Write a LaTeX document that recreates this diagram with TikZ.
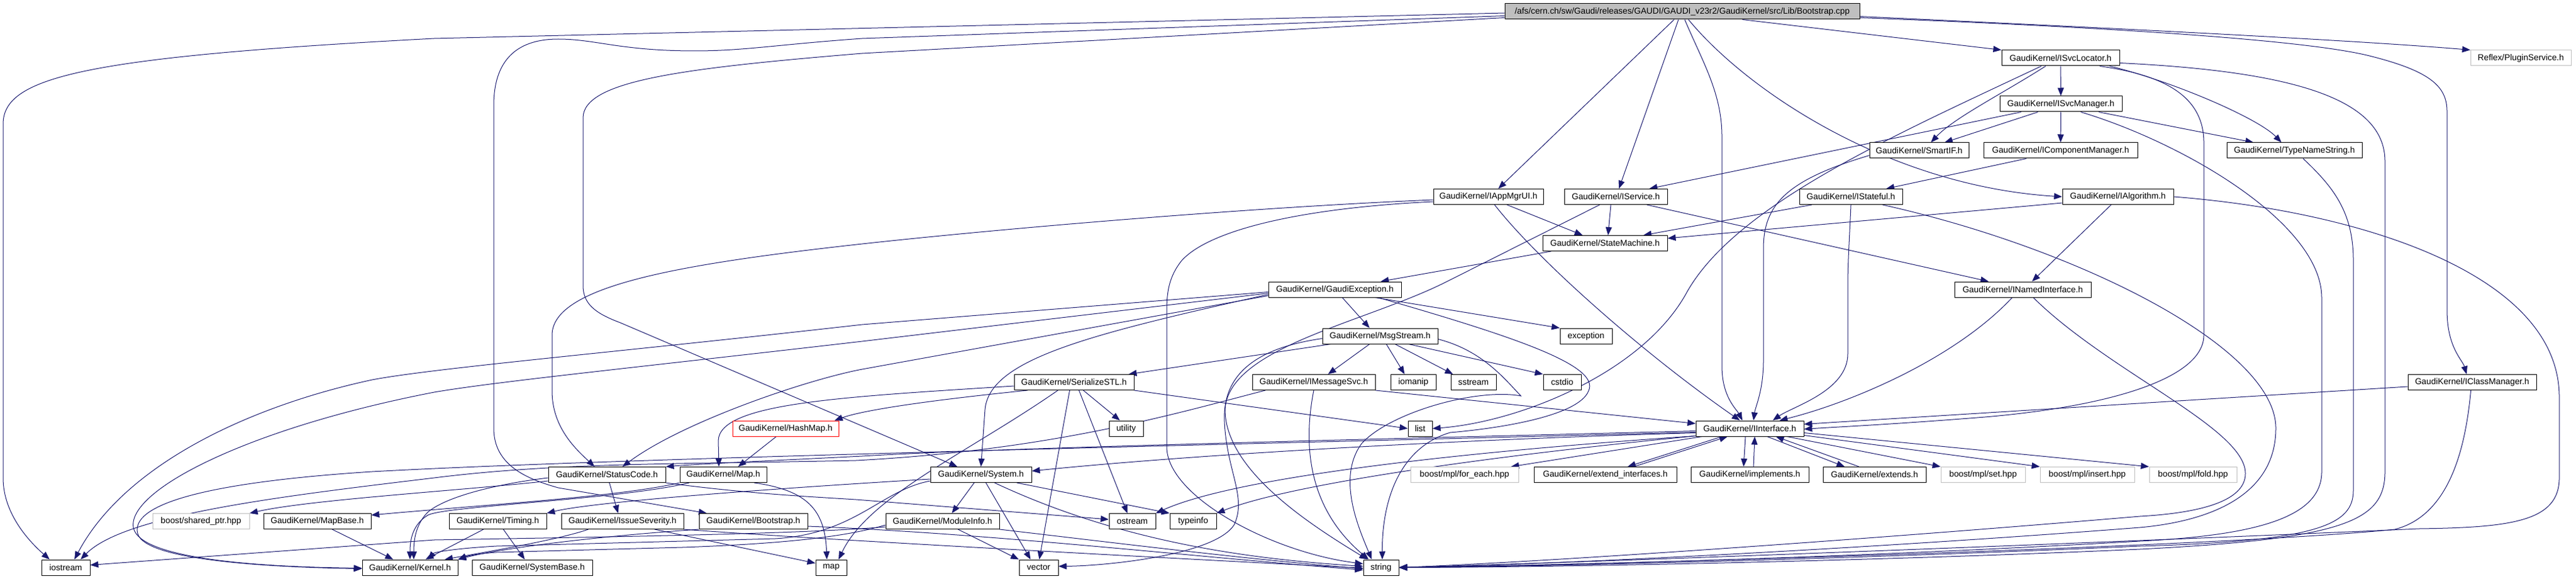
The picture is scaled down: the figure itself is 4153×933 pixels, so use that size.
\documentclass[tikz,border=0pt]{standalone}
\usepackage{fontspec}
\setmainfont{Liberation Sans}
\usetikzlibrary{arrows.meta,backgrounds}
\definecolor{edgec}{HTML}{191970}
\definecolor{grayb}{HTML}{BFBFBF}
\begin{document}
\begin{tikzpicture}[x=1pt,y=-1pt,
  nbox/.style={draw=black, line width=1pt, fill=white, minimum height=25pt, inner sep=0pt, font=\fontsize{13.8}{16}\selectfont},
  gbox/.style={nbox, draw=grayb},
  rbox/.style={nbox, draw=red},
  rootbox/.style={nbox, fill=grayb},
  lnk/.style={draw=edgec, line width=1pt, -{Triangle[length=13pt,width=10pt]}}]
\path[use as bounding box] (0,0) rectangle (4153,933);

\node[rootbox, minimum width=572pt] (root) at (2712,18.5) {/afs/cern.ch/sw/Gaudi/releases/GAUDI/GAUDI\_v23r2/GaudiKernel/src/Lib/Bootstrap.cpp};
\node[nbox, minimum width=78pt] (iostream) at (106,914.5) {iostream};
\node[nbox, minimum width=190pt] (svcloc) at (3322,93.5) {GaudiKernel/ISvcLocator.h};
\node[gbox, minimum width=162pt] (reflex) at (4064,93.5) {Reflex/PluginService.h};
\node[nbox, minimum width=197pt] (svcmgr) at (3322.5,167.5) {GaudiKernel/ISvcManager.h};
\node[nbox, minimum width=160pt] (smartif) at (3094,242.5) {GaudiKernel/SmartIF.h};
\node[nbox, minimum width=248pt] (compmgr) at (3322,242.5) {GaudiKernel/IComponentManager.h};
\node[nbox, minimum width=218pt] (typename) at (3699,242.5) {GaudiKernel/TypeNameString.h};
\node[nbox, minimum width=177pt] (appmgr) at (2399.5,317) {GaudiKernel/IAppMgrUI.h};
\node[nbox, minimum width=166pt] (iservice) at (2605,317) {GaudiKernel/IService.h};
\node[nbox, minimum width=166pt] (istateful) at (2984,317) {GaudiKernel/IStateful.h};
\node[nbox, minimum width=179pt] (ialgo) at (3414.5,317) {GaudiKernel/IAlgorithm.h};
\node[nbox, minimum width=201pt] (statem) at (2587.5,392) {GaudiKernel/StateMachine.h};
\node[nbox, minimum width=214pt] (gexc) at (2152,466.5) {GaudiKernel/GaudiException.h};
\node[nbox, minimum width=220pt] (inamed) at (3261,466.5) {GaudiKernel/INamedInterface.h};
\node[nbox, minimum width=186pt] (msgs) at (2225,541.5) {GaudiKernel/MsgStream.h};
\node[nbox, minimum width=84pt] (exception) at (2557,541.5) {exception};
\node[nbox, minimum width=193pt] (serial) at (1731.5,616) {GaudiKernel/SerializeSTL.h};
\node[nbox, minimum width=198pt] (imsg) at (2118,616) {GaudiKernel/IMessageSvc.h};
\node[nbox, minimum width=73pt] (iomanip) at (2278.5,616) {iomanip};
\node[nbox, minimum width=73pt] (sstream) at (2375.5,616) {sstream};
\node[nbox, minimum width=61pt] (cstdio) at (2518.5,616) {cstdio};
\node[nbox, minimum width=207pt] (iclass) at (3985.5,616) {GaudiKernel/IClassManager.h};
\node[rbox, minimum width=171pt] (hashmap) at (1266.5,690.5) {GaudiKernel/HashMap.h};
\node[nbox, minimum width=55pt] (utility) at (1815.5,690.5) {utility};
\node[nbox, minimum width=39pt] (list) at (2289.5,690.5) {list};
\node[nbox, minimum width=174pt] (iinter) at (2821,690.5) {GaudiKernel/IInterface.h};
\node[nbox, minimum width=189pt] (status) at (978.5,765) {GaudiKernel/StatusCode.h};
\node[nbox, minimum width=140pt] (mapH) at (1166,765) {GaudiKernel/Map.h};
\node[nbox, minimum width=163pt] (system) at (1581.5,765) {GaudiKernel/System.h};
\node[gbox, minimum width=174pt] (foreach) at (2361,765) {boost/mpl/for\_each.hpp};
\node[nbox, minimum width=230pt] (extif) at (2588,765) {GaudiKernel/extend\_interfaces.h};
\node[nbox, minimum width=190pt] (implem) at (2821,765) {GaudiKernel/implements.h};
\node[nbox, minimum width=166pt] (extends) at (3022,765) {GaudiKernel/extends.h};
\node[gbox, minimum width=136pt] (mplset) at (3197,765) {boost/mpl/set.hpp};
\node[gbox, minimum width=152pt] (mplinsert) at (3365,765) {boost/mpl/insert.hpp};
\node[gbox, minimum width=141pt] (mplfold) at (3535.5,765) {boost/mpl/fold.hpp};
\node[gbox, minimum width=156pt] (sharedptr) at (324,840) {boost/shared\_ptr.hpp};
\node[nbox, minimum width=173pt] (mapbase) at (511.5,840) {GaudiKernel/MapBase.h};
\node[nbox, minimum width=157pt] (timing) at (802.5,840) {GaudiKernel/Timing.h};
\node[nbox, minimum width=197pt] (issue) at (1003.5,840) {GaudiKernel/IssueSeverity.h};
\node[nbox, minimum width=175pt] (bootstrap) at (1214.5,840) {GaudiKernel/Bootstrap.h};
\node[nbox, minimum width=183pt] (modinfo) at (1519.5,840) {GaudiKernel/ModuleInfo.h};
\node[nbox, minimum width=75pt] (ostream) at (1825.5,840) {ostream};
\node[nbox, minimum width=75pt] (typeinfo) at (1923.5,840) {typeinfo};
\node[nbox, minimum width=154pt] (kernel) at (661,914.5) {GaudiKernel/Kernel.h};
\node[nbox, minimum width=194pt] (sysbase) at (858,914.5) {GaudiKernel/SystemBase.h};
\node[nbox, minimum width=50pt] (map) at (1340,914.5) {map};
\node[nbox, minimum width=63pt] (vector) at (1674.5,914.5) {vector};
\node[nbox, minimum width=57pt] (string) at (2226.5,914.5) {string};

\begin{scope}[on background layer]
\fill[white] (0,0) rectangle (4153,933);
% root
\draw[lnk] ([yshift=-2.5pt]root.west) -- (700,62) .. controls (130,92) and (5,125) .. (5,200) -- (5,770) .. controls (5,830) and (50,875) .. ([xshift=-26pt]iostream.north);
\draw[lnk] ([yshift=-7pt]root.west) -- (1390,62) .. controls (1250,72) and (1200,82) .. (1120,82) .. controls (1000,82) and (960,63) .. (900,63) .. controls (830,63) and (796,100) .. (796,170) -- (796,690) .. controls (796,750) and (850,772) .. (900,786) -- ([xshift=-75pt]bootstrap.north);
\draw[lnk] ([yshift=-10pt]root.west) -- (1390,86) .. controls (1100,110) and (940,130) .. (940,190) -- (940,460) .. controls (940,490) and (960,505) .. (1000,520) -- ([xshift=-38pt]system.north);
\draw[lnk] ([xshift=-13pt]root.south) -- ([xshift=16pt]appmgr.north);
\draw[lnk] ([xshift=-6pt]root.south) -- ([xshift=5pt]iservice.north);
\draw[lnk] ([xshift=4pt]root.south) .. controls (2745,100) and (2776,150) .. (2776,220) -- (2776,590) .. controls (2776,640) and (2800,660) .. ([xshift=-12pt]iinter.north);
\draw[lnk] ([xshift=10pt]root.south) .. controls (2820,150) and (3050,300) .. (ialgo.west);
\draw[lnk] ([xshift=97pt]root.south) -- (svcloc.north west);
\draw[lnk] ([yshift=-8pt]root.east) .. controls (3400,45) and (3800,65) .. (reflex.north west);
\draw[lnk] ([yshift=-10pt]root.east) .. controls (3300,40) and (3700,60) .. (3820,90) .. controls (3920,115) and (3945,140) .. (3945,180) -- (3945,500) .. controls (3945,560) and (3970,580) .. ([xshift=-9pt]iclass.north);
% ISvcLocator
\draw[lnk] (svcloc) -- (svcmgr);
\draw[lnk] ([xshift=-24pt]svcloc.south) .. controls (3230,150) and (3150,190) .. ([xshift=19pt]smartif.north);
\draw[lnk] ([xshift=-31pt]svcloc.south) .. controls (3050,220) and (2800,330) .. (2720,470) .. controls (2650,600) and (2450,680) .. (list.east);
\draw[lnk] ([xshift=79pt]svcloc.south) .. controls (3500,130) and (3640,190) .. ([xshift=-21pt]typename.north);
\draw[lnk] ([xshift=63pt]svcloc.south) .. controls (3480,120) and (3553,150) .. (3553,230) -- (3553,540) .. controls (3553,610) and (3400,655) .. (3200,672) .. controls (3050,684) and (2960,688) .. ([yshift=-1pt]iinter.east);
\draw[lnk] ([yshift=-8pt]svcloc.east) .. controls (3700,115) and (3845,160) .. (3845,260) -- (3845,760) .. controls (3845,840) and (3780,868) .. (3450,885) .. controls (3000,905) and (2500,914) .. (string.east);
% ISvcManager
\draw[lnk] ([xshift=-37pt]svcmgr.south) -- ([xshift=41pt]smartif.north);
\draw[lnk] (svcmgr) -- (compmgr);
\draw[lnk] ([xshift=-64pt]svcmgr.south) -- ([xshift=54pt]iservice.north);
\draw[lnk] ([xshift=61pt]svcmgr.south) -- ([xshift=-66pt]typename.north);
\draw[lnk] ([xshift=32pt]svcmgr.south) .. controls (3520,230) and (3743,360) .. (3743,480) -- (3743,760) .. controls (3743,830) and (3650,862) .. (3450,872) .. controls (3000,898) and (2500,912) .. (string.east);
\draw[lnk] ([xshift=-55pt]compmgr.south) -- ([xshift=57pt]istateful.north);
\draw[lnk] ([yshift=-8pt]smartif.west) .. controls (2880,290) and (2843,330) .. (2843,400) -- (2843,580) .. controls (2843,630) and (2830,655) .. ([xshift=6pt]iinter.north);
\draw[lnk] ([xshift=14pt]typename.south) .. controls (3760,300) and (3794,340) .. (3794,420) -- (3794,790) .. controls (3794,845) and (3740,872) .. (3450,880) .. controls (3000,900) and (2500,913) .. (string.east);
% IAppMgrUI
\draw[lnk] ([xshift=30pt]appmgr.south) -- ([xshift=-36pt]statem.north);
\draw[lnk] ([xshift=10pt]appmgr.south) .. controls (2480,420) and (2650,570) .. ([xshift=-16pt]iinter.north);
\draw[lnk] ([yshift=-5pt]appmgr.west) .. controls (2000,335) and (1600,370) .. (1390,393) .. controls (1100,425) and (890,460) .. (890,540) -- (890,630) .. controls (890,690) and (930,725) .. ([xshift=-20pt]status.north);
\draw[lnk] ([yshift=-8pt]appmgr.west) .. controls (2100,335) and (1950,370) .. (1905,420) .. controls (1885,445) and (1881,470) .. (1881,500) -- (1881,720) .. controls (1881,800) and (2050,890) .. ([yshift=6pt]string.west);
% IService
\draw[lnk] ([xshift=-8pt]iservice.south) -- ([xshift=5pt]statem.north);
\draw[lnk] ([xshift=50pt]iservice.south) -- ([xshift=-55pt]inamed.north);
\draw[lnk] ([xshift=-26pt]iservice.south) -- (2330,455) .. controls (2200,520) and (1980,560) .. (1975,660) .. controls (1975,760) and (2120,850) .. ([xshift=-22pt]string.north);
% IStateful
\draw[lnk] ([xshift=-63pt]istateful.south) -- ([xshift=62pt]statem.north);
\draw[lnk] (istateful.south) .. controls (2982,380) and (2979,420) .. (2979,460) -- (2979,570) .. controls (2979,630) and (2890,655) .. ([xshift=37pt]iinter.north);
\draw[lnk] ([xshift=51pt]istateful.south) .. controls (3350,400) and (3669,560) .. (3669,690) .. controls (3669,800) and (3560,840) .. (3450,850) .. controls (3000,885) and (2500,910) .. (string.east);
% IAlgorithm
\draw[lnk] ([yshift=-10pt]ialgo.west) -- ([yshift=8pt]statem.east);
\draw[lnk] ([xshift=-11pt]ialgo.south) -- ([xshift=15pt]inamed.north);
\draw[lnk] (ialgo.east) .. controls (3800,340) and (4126,440) .. (4126,640) -- (4126,770) .. controls (4126,840) and (4050,850) .. (3900,852) .. controls (3500,870) and (2600,905) .. (string.east);
% StateMachine, INamedInterface
\draw[lnk] ([xshift=-87pt]statem.south) -- ([xshift=74pt]gexc.north);
\draw[lnk] ([xshift=-17pt]inamed.south) .. controls (3150,580) and (2980,650) .. ([xshift=48pt]iinter.north);
\draw[lnk] ([xshift=17pt]inamed.south) .. controls (3400,600) and (3620,690) .. (3620,763) .. controls (3620,815) and (3520,828) .. (3450,832) .. controls (3000,870) and (2500,905) .. (string.east);
% GaudiException
\draw[lnk] ([xshift=12pt]gexc.south) -- ([xshift=-17pt]msgs.north);
\draw[lnk] ([xshift=65pt]gexc.south) -- (exception.north west);
\draw[lnk] ([xshift=70pt]gexc.south) .. controls (2450,545) and (2580,590) .. (2561,630) .. controls (2545,670) and (2420,690) .. (2338,697) .. controls (2260,720) and (2228,800) .. ([xshift=2pt]string.north);
\draw[lnk] ([yshift=-8pt]gexc.west) .. controls (1750,540) and (1595,580) .. (1588,660) -- (system.north);
\draw[lnk] ([yshift=-4pt]gexc.west) -- (1390,523) .. controls (1000,567) and (700,593) .. (600,612) .. controls (400,655) and (200,750) .. ([xshift=14pt]iostream.north);
\draw[lnk] ([yshift=-6pt]gexc.west) -- (1390,550) .. controls (1000,595) and (800,615) .. (700,632) .. controls (400,690) and (205,790) .. (215,850) .. controls (225,905) and (450,914) .. ([yshift=-1pt]kernel.west);
\draw[lnk] ([yshift=-10pt]gexc.west) -- (1390,595) .. controls (1300,612) and (1100,680) .. ([xshift=25pt]status.north);
% MsgStream
\draw[lnk] ([xshift=-17pt]msgs.south) -- ([xshift=23pt]imsg.north);
\draw[lnk] ([xshift=10pt]msgs.south) -- ([xshift=-14pt]iomanip.north);
\draw[lnk] ([xshift=24pt]msgs.south) -- ([xshift=-33pt]sstream.north);
\draw[lnk] ([xshift=46pt]msgs.south) -- (cstdio.north west);
\draw[lnk] ([yshift=-5pt]msgs.east) .. controls (2390,565) and (2425,610) .. (2452,638) .. controls (2380,625) and (2240,665) .. (2195,715) .. controls (2155,770) and (2190,850) .. ([xshift=-15pt]string.north);
\draw[lnk] ([xshift=14pt]msgs.south west) -- ([xshift=88pt]serial.north);
\draw[lnk] ([yshift=-4pt]msgs.west) .. controls (2030,560) and (1970,600) .. (1974,680) .. controls (1978,760) and (2010,800) .. (1990,845) .. controls (1960,895) and (1780,912) .. ([yshift=2pt]vector.east);
% SerializeSTL
\draw[lnk] ([xshift=-75pt]serial.south) .. controls (1450,650) and (1380,665) .. ([xshift=-7pt]hashmap.north east);
\draw[lnk] ([yshift=-6pt]serial.west) .. controls (1350,640) and (1160,650) .. (1158,710) -- ([xshift=-7pt]mapH.north);
\draw[lnk] ([xshift=-26pt]serial.south) .. controls (1560,730) and (1400,800) .. ([xshift=12pt]map.north);
\draw[lnk] ([xshift=-7pt]serial.south) -- ([xshift=1pt]vector.north);
\draw[lnk] ([xshift=8pt]serial.south) -- ([xshift=-8pt]ostream.north);
\draw[lnk] ([xshift=15pt]serial.south) -- ([xshift=-10pt]utility.north);
\draw[lnk] (serial.south east) -- (list.west);
% IMessageSvc
\draw[lnk] (imsg.south) .. controls (2100,720) and (2110,820) .. ([xshift=-20pt]string.north);
\draw[lnk] (imsg.south east) -- ([yshift=8pt]iinter.west);
\draw[lnk] ([xshift=-78pt]imsg.south) .. controls (1900,665) and (1700,725) .. (1380,742) .. controls (1100,748) and (900,745) .. (700,770) .. controls (450,800) and (200,830) .. ([xshift=24pt]iostream.north);
% IInterface
\draw[lnk] ([yshift=-4pt]iinter.west) .. controls (2200,708) and (1600,722) .. (1390,735) .. controls (1250,742) and (1120,748) .. (status.north east);
\draw[lnk] ([yshift=-6pt]iinter.west) .. controls (2000,716) and (1000,738) .. (600,760) .. controls (320,778) and (210,815) .. (222,860) .. controls (235,905) and (450,914) .. ([yshift=-2pt]kernel.west);
\draw[lnk] ([yshift=-7pt]iinter.west) .. controls (2300,710) and (1900,735) .. ([yshift=6pt]system.east);
\draw[lnk] ([yshift=-12pt]iinter.west) .. controls (2400,725) and (2000,765) .. (ostream.north east);
\draw[lnk] ([yshift=-12pt]iinter.west) .. controls (2400,735) and (2080,780) .. (typeinfo.north east);
\draw[lnk] ([xshift=-77pt]iinter.south) -- ([xshift=75pt]foreach.north);
\draw[lnk] ([xshift=-45pt]iinter.south) -- ([xshift=36pt]extif.north);
\draw[lnk] ([xshift=46pt]extif.north) -- ([xshift=-36pt]iinter.south);
\draw[lnk] ([xshift=-7pt]iinter.south) -- ([xshift=-10pt]implem.north);
\draw[lnk] ([xshift=6pt]implem.north) -- ([xshift=8pt]iinter.south);
\draw[lnk] ([xshift=28pt]iinter.south) -- ([xshift=-48pt]extends.north);
\draw[lnk] ([xshift=-25pt]extends.north) -- ([xshift=42pt]iinter.south);
\draw[lnk] ([xshift=60pt]iinter.south) -- (mplset.north west);
\draw[lnk] ([yshift=-11pt]iinter.east) -- (mplinsert.north west);
\draw[lnk] ([yshift=-7pt]iinter.east) -- (mplfold.north west);
% IClassManager
\draw[lnk] ([yshift=-7pt]iclass.west) -- ([yshift=7pt]iinter.east);
\draw[lnk] ([xshift=-2pt]iclass.south) .. controls (3975,720) and (3950,830) .. (3861,853) .. controls (3600,880) and (2600,910) .. (string.east);
% StatusCode
\draw[lnk] ([xshift=4pt]status.south) -- ([xshift=-7pt]issue.north);
\draw[lnk] ([yshift=-10pt]status.west) .. controls (750,790) and (500,805) .. (sharedptr.north east);
\draw[lnk] ([yshift=-5pt]status.west) .. controls (800,780) and (720,800) .. (690,825) .. controls (670,845) and (667,870) .. ([xshift=6pt]kernel.north);
\draw[lnk] (status.south east) .. controls (1200,795) and (1300,800) .. (1380,805) -- ([yshift=3pt]ostream.west);
% Map, HashMap, MapBase
\draw[lnk] (mapH.south west) .. controls (1000,800) and (800,812) .. ([yshift=10pt]mapbase.east);
\draw[lnk] ([xshift=-55pt]mapH.south) .. controls (1000,805) and (720,815) .. (690,830) .. controls (665,845) and (661,870) .. (kernel.north);
\draw[lnk] ([xshift=50pt]mapH.south) .. controls (1300,790) and (1330,820) .. ([xshift=-7pt]map.north);
\draw[lnk] ([xshift=-15pt]hashmap.south) -- ([xshift=24pt]mapH.north);
\draw[lnk] ([xshift=24pt]mapbase.south) -- ([xshift=-27pt]kernel.north);
% System
\draw[lnk] ([xshift=-11pt]system.south) -- ([xshift=15pt]modinfo.north);
\draw[lnk] ([xshift=8pt]system.south) -- ([xshift=-13pt]vector.north);
\draw[lnk] ([xshift=58pt]system.south) -- (typeinfo.north west);
\draw[lnk] ([xshift=22pt]system.south) .. controls (1800,870) and (2000,900) .. ([yshift=2pt]string.west);
\draw[lnk] ([yshift=-7pt]system.west) .. controls (1200,790) and (950,810) .. (timing.north east);
\draw[lnk] ([yshift=-10pt]system.west) .. controls (1420,790) and (1380,860) .. (1250,868) -- (800,880) .. controls (730,884) and (700,890) .. ([xshift=29pt]kernel.north);
% Timing, IssueSeverity, Bootstrap, ModuleInfo
\draw[lnk] ([xshift=-23pt]timing.south) -- ([xshift=25pt]kernel.north);
\draw[lnk] ([xshift=9pt]timing.south) -- ([xshift=-12pt]sysbase.north);
\draw[lnk] ([xshift=-55pt]issue.south) .. controls (900,870) and (780,890) .. ([xshift=56pt]kernel.north);
\draw[lnk] ([xshift=52pt]issue.south) -- ([yshift=7pt]map.west);
\draw[lnk] (issue.south east) .. controls (1300,868) and (1800,895) .. ([yshift=-1pt]string.west);
\draw[lnk] (bootstrap.south west) .. controls (950,865) and (800,885) .. (kernel.north east);
\draw[lnk] ([yshift=-8pt]bootstrap.east) .. controls (1600,860) and (1900,895) .. ([yshift=-4pt]string.west);
\draw[lnk] ([xshift=25pt]modinfo.south) -- (vector.north west);
\draw[lnk] (modinfo.south east) .. controls (1800,875) and (2000,900) .. ([yshift=-2pt]string.west);
\draw[lnk] ([yshift=-6pt]modinfo.west) .. controls (1380,860) and (1300,875) .. (1100,882) -- (800,890) .. controls (770,892) and (750,897) .. (kernel.north east);
\draw[lnk] ([yshift=-9pt]modinfo.west) .. controls (1300,860) and (1000,865) .. (700,870) -- ([yshift=4pt]iostream.east);
\end{scope}
\end{tikzpicture}
\end{document}
